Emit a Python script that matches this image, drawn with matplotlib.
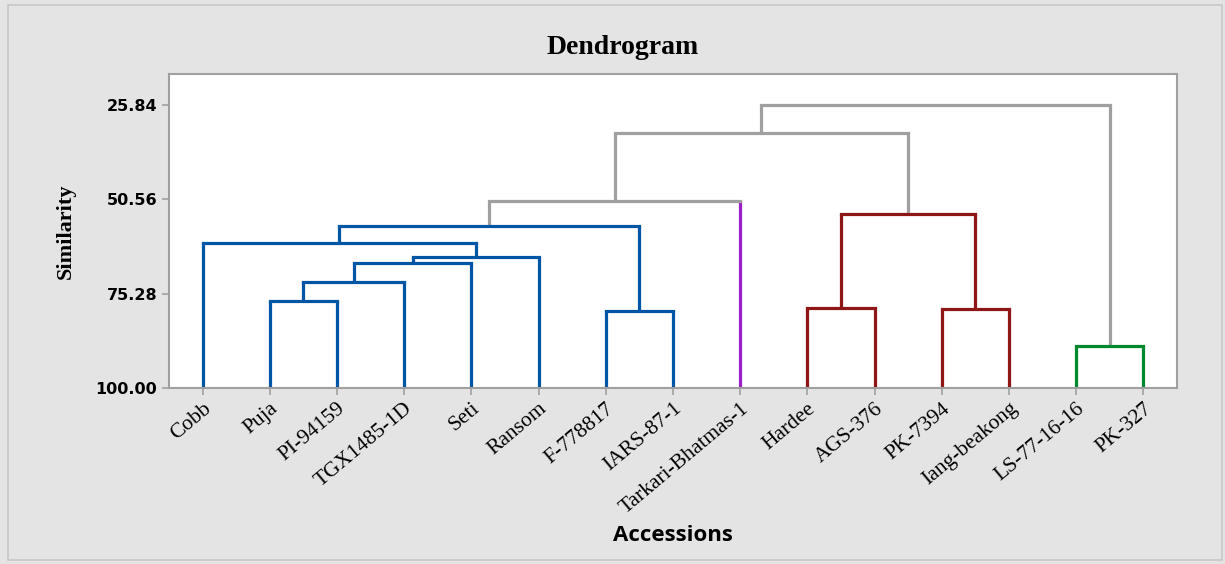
import matplotlib
matplotlib.use("Agg")
import matplotlib.pyplot as plt
from matplotlib.patches import Rectangle

# ---- data ----
leaves = ["Cobb", "Puja", "PI-94159", "TGX1485-1D", "Seti", "Ransom", "F-778817",
          "IARS-87-1", "Tarkari-Bhatmas-1", "Hardee", "AGS-376", "PK-7394",
          "Iang-beakong", "LS-77-16-16", "PK-327"]
leaf_groups = ["blue"] * 8 + ["purple"] + ["red"] * 4 + ["green"] * 2
# merges: (child a, child b, similarity, group); children >= 15 refer to earlier merges
merge_a = [1, 15, 16, 17, 0, 6, 19, 9, 11, 22, 13, 21, 26, 27]
merge_b = [2, 3, 4, 5, 18, 7, 20, 10, 12, 23, 14, 8, 24, 25]
merge_sim = [77.25, 72.35, 67.36, 65.79, 62.12, 79.88, 57.50,
             79.01, 79.27, 54.51, 88.98, 51.02, 33.10, 25.84]
merge_groups = ["blue"] * 7 + ["red"] * 3 + ["green"] + ["gray"] * 3
yticks = [25.84, 50.56, 75.28, 100.00]

palette = {"blue": "#0055A5", "red": "#8E1616", "green": "#00882C",
           "purple": "#9A1FC9", "gray": "#A0A0A0"}

fig = plt.figure(figsize=(12.25, 5.64), dpi=100, facecolor="#E4E4E4")
fig.patches.append(Rectangle((8 / 1225, 4 / 564), 1214 / 1225, 555 / 564,
                             transform=fig.transFigure, fill=False,
                             edgecolor="#C8C8C8", linewidth=1.2))
ax = fig.add_axes([169 / 1225, 1 - 388 / 564, (1177 - 169) / 1225, (388 - 74) / 564])
ax.set_facecolor("white")

n = len(leaves)
xpos = {i: i + 1 for i in range(n)}
ypos = {i: 100.0 for i in range(n)}
lw = 2.3
for k, (a, b, s, g) in enumerate(zip(merge_a, merge_b, merge_sim, merge_groups)):
    node = n + k
    col = palette[g]
    for c in (a, b):
        vcol = palette[leaf_groups[c]] if c < n else col
        ax.plot([xpos[c], xpos[c]], [ypos[c], s], color=vcol, lw=lw,
                solid_capstyle="butt", zorder=2)
    ax.plot([xpos[a], xpos[b]], [s, s], color=col, lw=lw,
            solid_capstyle="projecting", zorder=3)
    xpos[node] = (xpos[a] + xpos[b]) / 2
    ypos[node] = s

ax.set_xlim(0.5, n + 0.5)
ax.set_ylim(100, 17.71)
ax.set_yticks(yticks)
ax.set_yticklabels([f"{v:.2f}" for v in yticks], fontfamily="DejaVu Sans",
                   fontweight="bold", fontsize=11.5)
ax.set_xticks(range(1, n + 1))
ax.set_xticklabels(leaves, rotation=40, ha="right", va="top", rotation_mode="anchor",
                   fontfamily="Liberation Serif", fontsize=15.5)
ax.tick_params(axis="both", color="#A0A0A0", length=5, width=1.2)
ax.tick_params(axis="x", pad=3)
for sp in ax.spines.values():
    sp.set_color("#A0A0A0")
    sp.set_linewidth(1.5)

fig.text(0.508, 1 - 53.5 / 564, "Dendrogram", ha="center", va="baseline",
         fontfamily="Liberation Serif", fontweight="bold", fontsize=20)
ax.set_ylabel("Similarity", fontfamily="Liberation Serif", fontweight="bold",
              fontsize=16)
ax.yaxis.set_label_coords(-0.092, 0.5)
ax.set_xlabel("Accessions", fontfamily="Open Sans", fontweight="bold", fontsize=16)
ax.xaxis.set_label_coords(0.5, -0.435)

fig.savefig("out.png", dpi=100, facecolor=fig.get_facecolor())
